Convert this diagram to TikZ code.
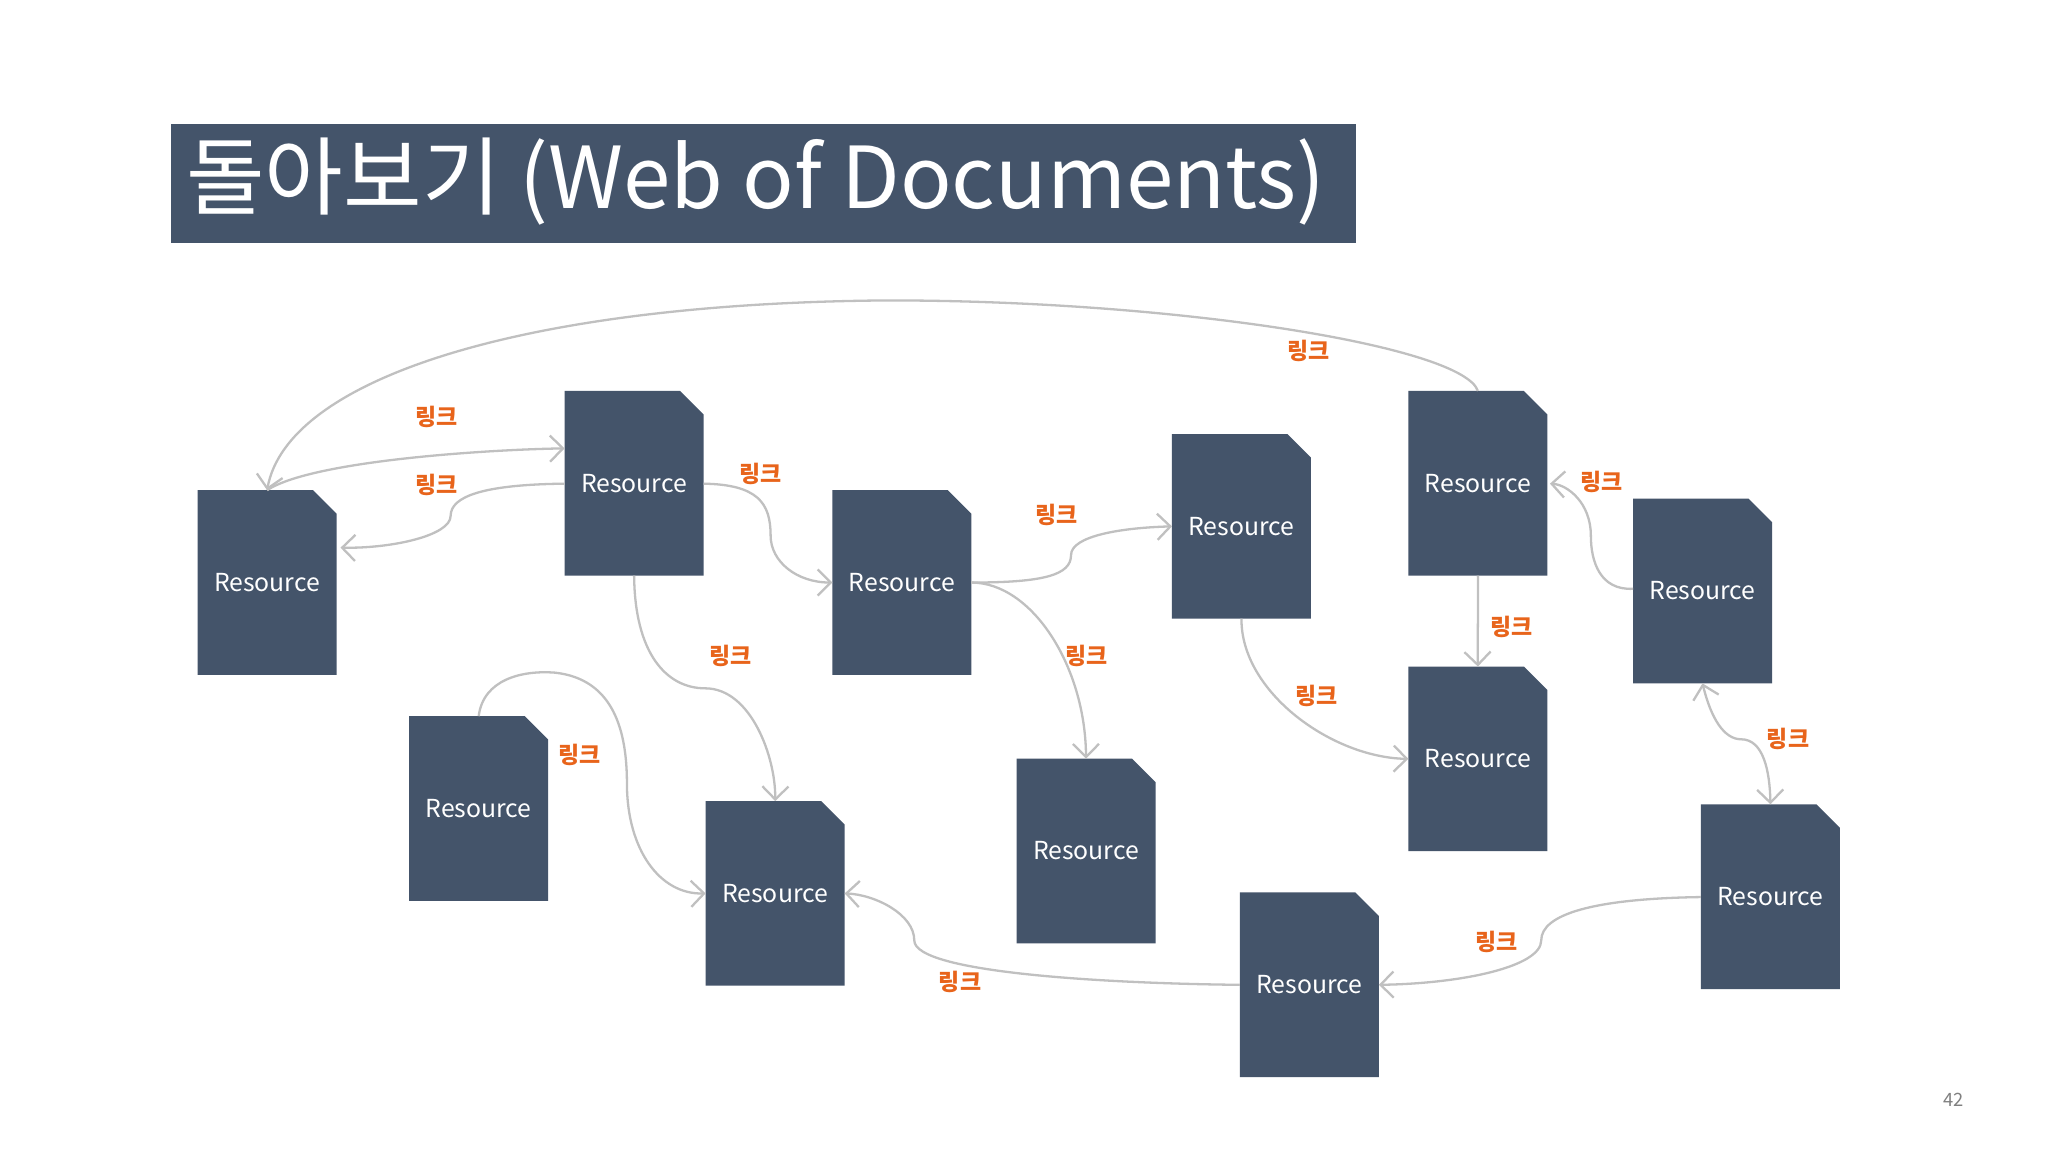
\documentclass[tikz,border=0pt]{standalone}
\usepackage{fontspec}
\setmainfont{Noto Sans CJK KR}
\usetikzlibrary{arrows.meta,calc,backgrounds}
\definecolor{slate}{HTML}{44546A}
\definecolor{lnk}{HTML}{E8641B}
\definecolor{ln}{HTML}{C0C0C0}
\tikzset{
 doc/.style={minimum width=10.5mm,minimum height=14mm,inner sep=0pt,text=white,font=\fontsize{5.4pt}{6pt}\selectfont},
 con/.style={draw=ln,line width=0.5pt,-{Straight Barb[length=1mm,width=2mm]}},
 lab/.style={text=lnk,font=\fontsize{5pt}{6pt}\selectfont\bfseries}
}
\begin{document}
\begin{tikzpicture}[x=0.1mm,y=-0.1mm]
\useasboundingbox (0,0) rectangle (1568,882);
\fill[slate] (131,95) rectangle (1038,186);
\node[anchor=west,text=white,font=\fontsize{18.6pt}{20pt}\selectfont,inner sep=0pt] (title) at (142,139) {돌아보기 (Web of Documents)};
\node[text=gray,font=\fontsize{4pt}{5pt}\selectfont] (pg) at (1496,842) {42};
\foreach \n/\x/\y in {A/204.5/446,B/485.5/370,C/690.5/446,D/950.5/403,E/1131.5/370,F/1303.5/452.5,G/366.5/619,H/593.5/684,I/831.5/651.5,J/1131.5/581,K/1355.5/686.5,L/1002.5/754}
  \node[doc] (\n) at (\x,\y) {Resource};
\begin{scope}[on background layer]
\fill[white] (0,0) rectangle (1568,882);
\foreach \n in {A,B,C,D,E,F,G,H,I,J,K,L}
  \fill[slate] (\n.north west) -- ($(\n.north east)+(-18,0)$) -- ($(\n.north east)+(0,18)$) -- (\n.south east) -- (\n.south west) -- cycle;
\end{scope}
% edges
\draw[con] (E.north) .. controls (1120,265) and (900,230) .. (680,230) .. controls (400,232) and (220,290) .. (A.north);
\draw[con] (A.north) .. controls (240,352) and (380,344) .. ($(B.north west)+(0,44)$);
\draw[con] ($(B.north west)+(0,71)$) .. controls (370,371) and (345,380) .. (345,395) .. controls (345,410) and (300,420) .. ($(A.north east)+(3,44)$);
\draw[con] ($(B.north east)+(0,71)$) .. controls (580,371) and (590,385) .. (590,410) .. controls (590,430) and (610,446) .. (C.west);
\draw[con] (C.east) .. controls (800,446) and (820,440) .. (820,425) .. controls (820,410) and (860,404) .. (D.west);
\draw[con] (B.south) .. controls (486,500) and (510,527) .. (540,527) .. controls (575,527) and (594,580) .. (H.north);
\draw[con] (C.east) .. controls (790,446) and (831,510) .. (I.north);
\draw[con] (D.south) .. controls (950,530) and (1020,580) .. (J.west);
\draw[con] (E.south) .. controls (1132,470) and (1131,490) .. (J.north);
\draw[con] ($(F.north west)+(0,69)$) .. controls (1225,452) and (1218,430) .. (1218,410) .. controls (1218,385) and (1200,371) .. ($(E.north east)+(2,71)$);
\draw[con,{Straight Barb[length=1mm,width=2mm]}-{Straight Barb[length=1mm,width=2mm]}] (F.south) .. controls (1310,550) and (1320,566) .. (1333,566) .. controls (1350,566) and (1355,590) .. (K.north);
\draw[con] (G.north) .. controls (370,520) and (400,513) .. (425,515) .. controls (470,520) and (480,560) .. (480,600) .. controls (480,650) and (505,685) .. (H.west);
\draw[con] (L.west) .. controls (850,753) and (700,745) .. (700,720) .. controls (700,700) and (670,685) .. (H.east);
\draw[con] ($(K.north west)+(0,71)$) .. controls (1220,688) and (1180,700) .. (1180,720) .. controls (1180,740) and (1120,753) .. (L.east);
% labels
\foreach \t/\x/\y in {l1/1002/269,l2/334/319,l3/334/371,l4/582/363,l5/809/394,l6/559/502,l7/832/502,l8/1008/533,l9/1157/480,l10/1226/369,l11/1369/566,l12/444/578,l13/735/752,l14/1146/721}
  \node[lab] (\t) at (\x,\y) {링크};
\end{tikzpicture}
\end{document}
